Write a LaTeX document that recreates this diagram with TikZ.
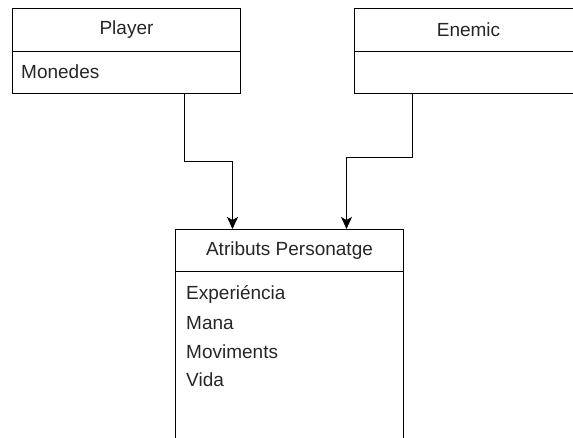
\documentclass[tikz,border=0pt]{standalone}
\usepackage{fontspec}
\setmainfont{Liberation Sans}
\usetikzlibrary{arrows.meta,calc}
\begin{document}
\begin{tikzpicture}[x=1pt,y=-1pt,
  box/.style={draw=black,line width=1pt,fill=white,inner sep=0pt,anchor=north west},
  lbl/.style={inner sep=0pt,font=\fontsize{19}{22}\selectfont,text=black!85},
  arr/.style={draw=black,line width=1pt,-{Stealth[length=12pt,width=11pt,inset=3pt]}}]
\clip (0,0) rectangle (573,438);
\useasboundingbox (0,0) rectangle (573,438);
% Player
\node[box,minimum width=228pt,minimum height=43pt] (phead) at (12,8) {};
\node[box,minimum width=228pt,minimum height=42pt] (pbody) at (12,51) {};
\node[lbl] (ptitle) at (phead.center) {Player};
\node[lbl,anchor=west] (pmon) at (21,72) {Monedes};
% Enemic
\node[box,minimum width=228pt,minimum height=43pt] (ehead) at (354,8) {};
\node[box,minimum width=228pt,minimum height=42pt] (ebody) at (354,51) {};
\node[lbl] (etitle) at (ehead.center) {Enemic};
% Atributs
\node[box,minimum width=228pt,minimum height=42pt] (ahead) at (175,229) {};
\node[box,minimum width=228pt,minimum height=190pt] (abody) at (175,271) {};
\node[lbl] (atitle) at (ahead.center) {Atributs Personatge};
\node[lbl,anchor=west] (a1) at (186,294) {Experiéncia};
\node[lbl,anchor=west] (a2) at (186,323) {Mana};
\node[lbl,anchor=west] (a3) at (186,352) {Moviments};
\node[lbl,anchor=west] (a4) at (186,380) {Vida};
% connectors
\draw[arr] ([xshift=58pt]pbody.south) -- ++(0,68) -| ([xshift=-57pt]ahead.north);
\draw[arr] ([xshift=-56pt]ebody.south) -- ++(0,64) -| ([xshift=57pt]ahead.north);
\end{tikzpicture}
\end{document}
